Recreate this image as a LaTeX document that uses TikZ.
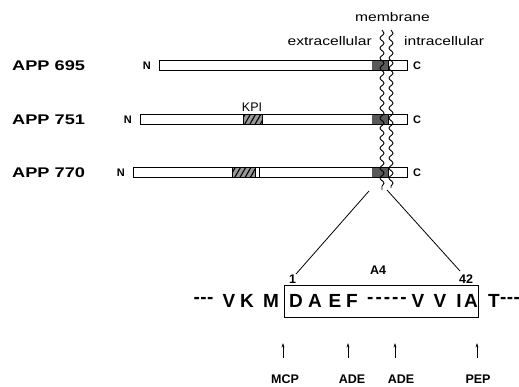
\documentclass[tikz,border=0pt]{standalone}
\usepackage{fontspec}
\setmainfont{Liberation Sans}
\newfontfamily\widefont[FakeStretch=1.25]{Liberation Sans}
\newfontfamily\appfont[FakeStretch=1.3]{Liberation Sans}
\usetikzlibrary{decorations.pathmorphing,patterns.meta,arrows.meta}

\begin{document}
\begin{tikzpicture}[x=1pt,y=-1pt,
  bar/.style={draw,line width=0.9pt},
  tmseg/.style={fill=black!65},
  hatchseg/.style={preaction={fill=black!40},
    pattern={Lines[angle=60,distance=4.5pt,line width=1.1pt]},draw,line width=0.6pt},
  applabel/.style={anchor=west,inner sep=0pt,font=\appfont\bfseries\fontsize{14}{16}\selectfont},
  endlabel/.style={inner sep=0pt,font=\bfseries\fontsize{11}{13}\selectfont},
  seq/.style={inner sep=0pt,font=\bfseries\fontsize{19}{21}\selectfont},
  small/.style={inner sep=0pt,font=\bfseries\fontsize{12.5}{14}\selectfont},
  region/.style={inner sep=0pt,font=\widefont\fontsize{12.5}{14}\selectfont},
  wave/.style={line width=0.9pt,decorate,
    decoration={snake,amplitude=2pt,segment length=10pt}},
  link/.style={line width=0.8pt},
  cut/.style={line width=0.7pt,-{Stealth[length=4.5pt,width=2.8pt]}}]

\useasboundingbox (0,0) rectangle (519,386);

% --- isoform labels ---
\node[applabel] (app695) at (12,66) {APP 695};
\node[applabel] (app751) at (12,120) {APP 751};
\node[applabel] (app770) at (12,173) {APP 770};

% --- APP 695 ---
\fill[white] (159,60.5) rectangle (407,70.5);
\fill[tmseg] (372,60.5) rectangle (388,70.5);
\draw[bar] (159,60.5) rectangle (407,70.5);
\draw[bar] (388,60.5) -- (388,70.5);
\node[endlabel,anchor=east] (n695) at (151,65.5) {N};
\node[endlabel,anchor=west] (c695) at (413,65.5) {C};

% --- APP 751 ---
\fill[white] (140,114) rectangle (407,124.5);
\fill[tmseg] (372,114) rectangle (388,124.5);
\path[hatchseg] (243,114) rectangle (262,124.5);
\draw[bar] (140,114) rectangle (407,124.5);
\draw[bar] (388,114) -- (388,124.5);
\node[endlabel,anchor=east] (n751) at (132,119.3) {N};
\node[endlabel,anchor=west] (c751) at (413,119.3) {C};
\node[inner sep=0pt,font=\fontsize{12.5}{14}\selectfont] (kpi) at (252,107.5) {KPI};

% --- APP 770 ---
\fill[white] (133,167) rectangle (407,177.5);
\fill[tmseg] (372,167) rectangle (388,177.5);
\path[hatchseg] (232,167) rectangle (255,177.5);
\draw[bar] (133,167) rectangle (407,177.5);
\draw[bar] (259,167) -- (259,177.5);
\draw[bar] (388,167) -- (388,177.5);
\node[endlabel,anchor=east] (n770) at (125,172.3) {N};
\node[endlabel,anchor=west] (c770) at (413,172.3) {C};

% --- membrane ---
\draw[wave] (382,30) -- (382,190);
\draw[wave] (391,30) -- (391,188);
\node[region] (memb) at (392.5,17.5) {membrane};
\node[region,anchor=east] (extra) at (372,41) {extracellular};
\node[region,anchor=west] (intra) at (404,41) {intracellular};

% --- expansion of the A4 region ---
\coordinate (ml) at (369,191);
\coordinate (mr) at (387,190);
\node[small] (p1) at (292.5,279.5) {1};
\node[small] (p42) at (466,279) {42};
\node[small] (a4) at (378,270) {A4};
\coordinate (bl) at (296,274);
\coordinate (br) at (460,271);
\draw[link] (ml) -- (bl);
\draw[link] (mr) -- (br);

\node[draw,line width=0.9pt,minimum width=194pt,minimum height=32pt,inner sep=0pt]
  (abox) at (381,301) {};

% --- sequence ---
\foreach \ch/\xx [count=\i] in {V/229,K/247,M/271,D/296,A/315,E/335,F/352,
                                V/418,V/440,I/459,A/471,T/494}
  \node[seq] (s\i) at (\xx,300.5) {\ch};
\node[seq] (d1) at (203.5,300) {-{}\kern0.5pt-{}\kern0.5pt-};
\node[seq] (d2) at (387,300) {-\kern2pt-\kern2pt-\kern2pt-\kern2pt-};
\node[seq] (d3) at (510,300) {-{}\kern0.5pt-{}\kern0.5pt-};

% --- cleavage sites ---
\node[small] (mcp) at (285,379.5) {MCP};
\node[small] (ade1) at (352,379.5) {ADE};
\node[small] (ade2) at (401,379.5) {ADE};
\node[small] (pep) at (478,379.5) {PEP};
\foreach \xx/\j in {283/1,348/2,395/3,477/4} {
  \coordinate (f\j) at (\xx,358);
  \coordinate (t\j) at (\xx,343);
  \draw[cut] (f\j) -- (t\j);
}
\end{tikzpicture}
\end{document}
